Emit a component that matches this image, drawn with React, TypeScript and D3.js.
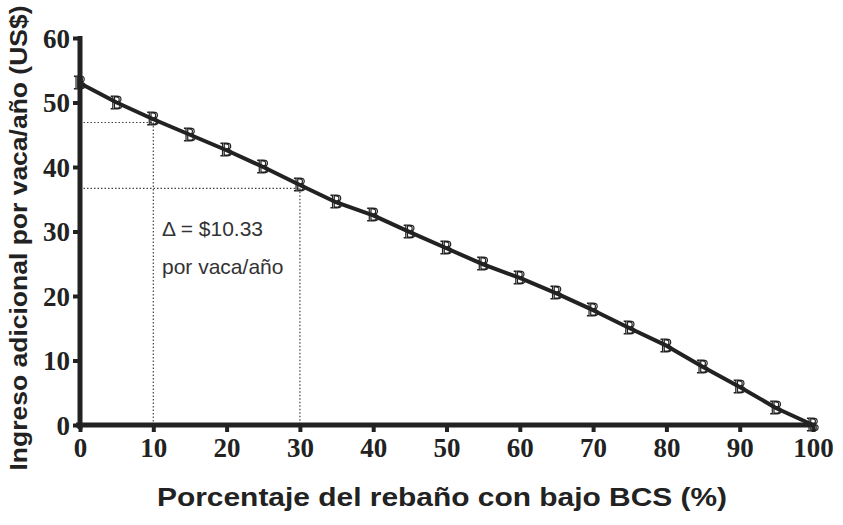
import { useEffect, useRef } from "react"
import * as d3 from "d3"

// % of herd with low BCS
const pctLowBcs = [0, 5, 10, 15, 20, 25, 30, 35, 40, 45, 50, 55, 60, 65, 70, 75, 80, 85, 90, 95, 100]
// additional income per cow per year (US$)
const incomePerCow = [53.0, 50.0, 47.4, 45.0, 42.6, 40.0, 37.2, 34.5, 32.5, 29.9, 27.4, 24.9, 22.8, 20.4, 17.8, 15.0, 12.3, 9.0, 5.9, 2.6, 0]

const xTicks = [0, 10, 20, 30, 40, 50, 60, 70, 80, 90, 100]
const yTicks = [0, 10, 20, 30, 40, 50, 60]

// reference guides: income at 10% and 30% low BCS
const guideX = [10, 30]
const guideY = [46.9, 36.7]

const W = 843
const H = 525

export default function App() {
  const svgRef = useRef<SVGSVGElement>(null)

  useEffect(() => {
    if (!svgRef.current) return
    const svg = d3.select(svgRef.current)
    svg.selectAll("*").remove()

    const x = d3.scaleLinear().domain([0, 100]).range([80, 813])
    const y = d3.scaleLinear().domain([0, 60]).range([425, 38])

    const ink = "#222"
    const serif = "'Liberation Serif', 'Times New Roman', serif"
    const sans = "'Liberation Sans', Arial, sans-serif"

    // identity filter, renders markers offscreen -> grayscale antialiasing
    svg.append("defs")
      .append("filter")
      .attr("id", "flat")
      .append("feOffset")
      .attr("dx", 0)
      .attr("dy", 0)

    // dotted guides
    const guides = svg.append("g")
      .attr("stroke", "#444")
      .attr("stroke-width", 1.2)
      .attr("stroke-dasharray", "1.5,2")
      .attr("fill", "none")
    guideX.forEach((gx, i) => {
      guides.append("line")
        .attr("x1", x(0)).attr("x2", x(gx))
        .attr("y1", y(guideY[i])).attr("y2", y(guideY[i]))
      guides.append("line")
        .attr("x1", x(gx)).attr("x2", x(gx))
        .attr("y1", y(guideY[i])).attr("y2", y(0))
    })

    // axes
    const xAxis = svg.append("g")
      .attr("transform", `translate(0, ${y(0)})`)
      .call(d3.axisBottom(x).tickValues(xTicks).tickSize(7).tickPadding(6).tickFormat(d3.format("d")))
    const yAxis = svg.append("g")
      .attr("transform", `translate(${x(0)}, 0)`)
      .call(d3.axisLeft(y).tickValues(yTicks).tickSize(7).tickPadding(3).tickFormat(d3.format("d")))

    ;[xAxis, yAxis].forEach((a) => {
      a.attr("font-size", null).attr("font-family", null)
      a.select(".domain").attr("stroke", ink).attr("stroke-width", 5)
      a.selectAll(".tick line").attr("stroke", ink).attr("stroke-width", 4)
      a.selectAll(".tick text")
        .attr("fill", ink)
        .style("font-family", serif)
        .style("font-weight", "bold")
        .style("font-size", "27px")
    })
    xAxis.select(".domain").attr("d", `M${x(0) - 4},0H${x(100) + 2}`)
    yAxis.select(".domain").attr("d", `M0,${y(60) - 2}V${y(0) + 4}`)
    yAxis.selectAll(".tick text").attr("dy", "0.34em")
    xAxis.selectAll(".tick text").attr("dy", "0.72em")

    // series line
    const pts = pctLowBcs.map((p, i) => [p, incomePerCow[i]] as [number, number])
    svg.append("path")
      .datum(pts)
      .attr("fill", "none")
      .attr("stroke", ink)
      .attr("stroke-width", 4)
      .attr("stroke-linejoin", "round")
      .attr("d", d3.line().x((d) => x(d[0])).y((d) => y(d[1])))

    // letter markers
    svg.append("g")
      .attr("filter", "url(#flat)")
      .selectAll("text")
      .data(pts)
      .enter()
      .append("text")
      .attr("x", (d) => x(d[0]))
      .attr("y", (d) => y(d[1]))
      .attr("text-anchor", "middle")
      .attr("dominant-baseline", "central")
      .attr("fill", "none")
      .attr("stroke", ink)
      .attr("stroke-width", 1.2)
      .style("font-family", serif)
      .style("font-size", "18px")
      .text("B")

    // annotation
    const note = svg.append("g")
      .attr("fill", "#333")
      .style("font-family", sans)
      .style("font-size", "21px")
    note.append("text").attr("x", 162).attr("y", 236).text("Δ = $10.33")
    note.append("text").attr("x", 162).attr("y", 274).text("por vaca/año")

    // axis titles
    svg.append("text")
      .attr("x", 442)
      .attr("y", 506)
      .attr("text-anchor", "middle")
      .attr("fill", ink)
      .attr("textLength", 570)
      .attr("lengthAdjust", "spacingAndGlyphs")
      .style("font-family", sans)
      .style("font-weight", "bold")
      .style("font-size", "25px")
      .text("Porcentaje del rebaño con bajo BCS (%)")

    svg.append("text")
      .attr("transform", `translate(27, 238) rotate(-90)`)
      .attr("text-anchor", "middle")
      .attr("fill", ink)
      .attr("textLength", 465)
      .attr("lengthAdjust", "spacingAndGlyphs")
      .style("font-family", sans)
      .style("font-weight", "bold")
      .style("font-size", "23px")
      .text("Ingreso adicional por vaca/año (US$)")
  }, [])

  return (
    <svg
      ref={svgRef}
      width={W}
      height={H}
      style={{ position: "absolute", left: 0, top: 0, background: "#fff" }}
    />
  )
}
